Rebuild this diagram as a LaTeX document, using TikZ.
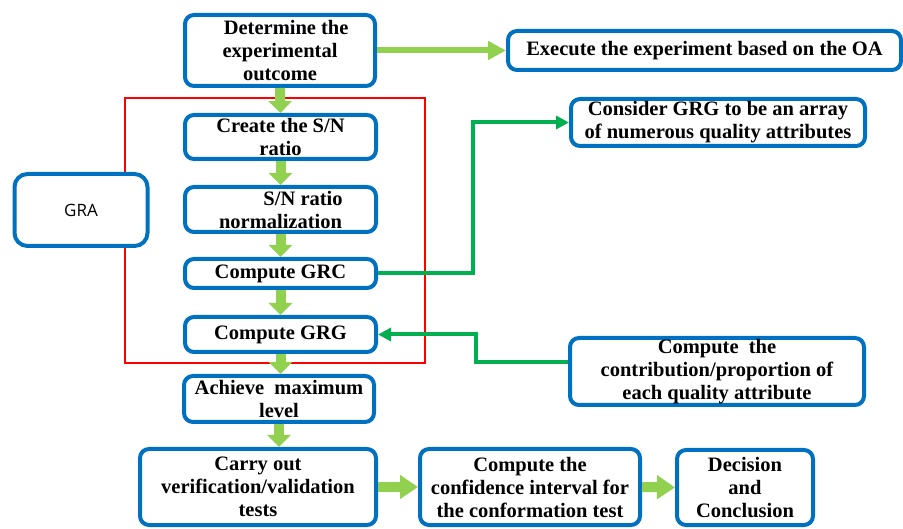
\documentclass[tikz,border=0pt]{standalone}
\usepackage{fontspec}
\setmainfont{Liberation Serif}
\newfontfamily\grafont{Open Sans}
\usetikzlibrary{arrows.meta}
\definecolor{boxblue}{HTML}{0070C0}
\definecolor{lgreen}{HTML}{92D050}
\definecolor{dgreen}{HTML}{00B050}
\definecolor{framered}{HTML}{FF0000}
\begin{document}
\begin{tikzpicture}[x=1pt,y=-1pt,
  box/.style={draw=boxblue, line width=4pt, rounded corners=9pt, fill=white,
    align=center, inner sep=1pt, font=\fontsize{20.5}{23}\selectfont\bfseries},
  grabox/.style={draw=boxblue, line width=4pt, rounded corners=13pt, fill=white,
    align=center, font=\grafont\fontsize{17}{20}\selectfont},
  frame/.style={draw=framered, line width=2.8pt, inner sep=0pt},
  varrow/.style={draw=lgreen, line width=10pt, -{Triangle[width=23pt,length=12pt]}},
  harrow/.style={draw=lgreen, line width=6pt, -{Triangle[width=18pt,length=18pt]}},
  barrow/.style={draw=lgreen, line width=10pt, -{Triangle[width=23pt,length=18pt]}},
  garrow/.style={draw=dgreen, line width=4pt, -{Triangle[width=13pt,length=13pt]}}
]
\useasboundingbox (0,0) rectangle (903,529);

% red grouping frame
\node[frame, minimum width=300pt, minimum height=265pt] (fr) at (275,230.5) {};

% boxes
\node[box, minimum width=190pt, minimum height=71pt] (detA) at (280,50.5)
  {\hspace*{0.6em}Determine the\\experimental\\outcome};
\node[box, minimum width=393pt, minimum height=39pt] (exec) at (704.5,50.5)
  {Execute the experiment based on the OA};
\node[box, minimum width=191pt, minimum height=44pt] (create) at (280.5,137)
  {Create the S/N\\ratio};
\node[box, minimum width=191pt, minimum height=45pt] (norm) at (280.5,209.5)
  {\hspace*{2.2em}S/N ratio\\normalization};
\node[box, minimum width=191pt, minimum height=29pt] (grc) at (280.5,273.5)
  {Compute GRC};
\node[box, minimum width=191pt, minimum height=35pt] (grg) at (280.5,334.5)
  {Compute GRG};
\node[box, minimum width=190pt, minimum height=46pt] (achieve) at (279,399)
  {Achieve\ \ maximum\\level};
\node[box, minimum width=236pt, minimum height=76pt] (carry) at (258,487)
  {Carry out\\verification/validation\\tests};
\node[box, minimum width=220pt, minimum height=76pt] (conf) at (530,487)
  {Compute the\\confidence interval for\\the conformation test};
\node[box, minimum width=136pt, minimum height=75pt] (dec) at (745,487.5)
  {Decision\\and\\Conclusion};
\node[grabox, minimum width=133pt, minimum height=72pt] (gra) at (81,210) {GRA};
\node[box, minimum width=294pt, minimum height=47pt] (consider) at (718,122.5)
  {Consider GRG to be an array\\of numerous quality attributes};
\node[box, minimum width=294pt, minimum height=67pt] (contrib) at (717,371.5)
  {Compute\ \ the\\contribution/proportion of\\each quality attribute};

% junction coordinates for dark green connectors
\coordinate (j1) at (473,0);
\coordinate (j2) at (476,0);

% light green block arrows
\draw[harrow] (detA.east) -- (detA.east -| exec.west);
\draw[varrow] (detA.south) -- (create.north);
\draw[varrow] (create.south) -- (norm.north);
\draw[varrow] (norm.south) -- (grc.north);
\draw[varrow] (grc.south) -- (grg.north);
\draw[varrow] (grg.south) -- (grg.south |- achieve.north);
\draw[varrow] (achieve.south) -- (achieve.south |- carry.north);
\draw[barrow] (carry.east) -- (conf.west);
\draw[barrow] (conf.east) -- (dec.west);

% dark green connectors
\draw[garrow] (grc.east) -- (grc.east -| j1) |- (consider.west);
\draw[garrow] ([yshift=9pt]contrib.west) -- ([yshift=9pt]contrib.west -| j2) |- (grg.east);
\end{tikzpicture}
\end{document}
